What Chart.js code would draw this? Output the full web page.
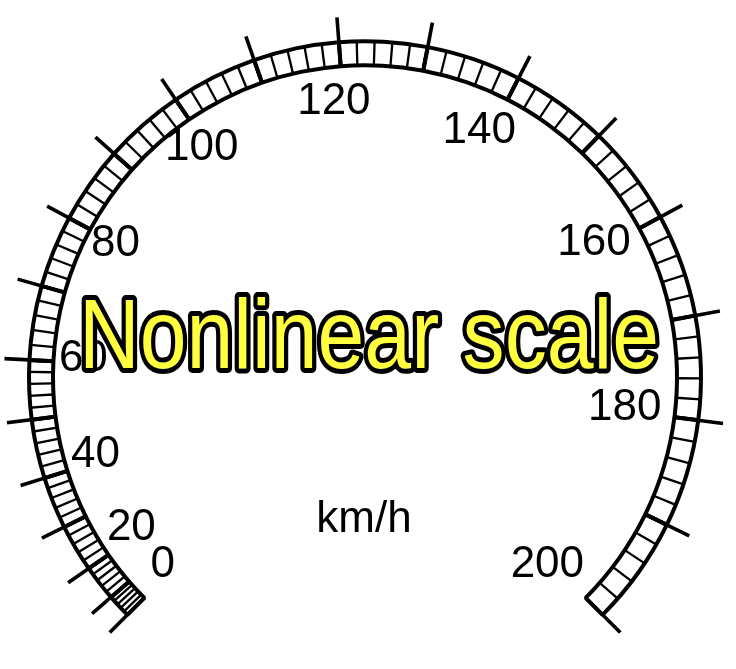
<!DOCTYPE html>
<html>
<head>
<meta charset="utf-8">
<script src="https://cdn.jsdelivr.net/npm/chart.js@4.4.1/dist/chart.umd.min.js"></script>
<style>
  body { margin: 0; background: #fff; }
  #wrap { width: 736px; height: 669px; }
</style>
</head>
<body>
<div id="wrap"><canvas id="gauge"></canvas></div>
<script>
// one doughnut segment per 10 km/h, width = angle (degrees)
const decadeStarts = [0, 10, 20, 30, 40, 50, 60, 70, 80, 90, 100, 110, 120, 130, 140, 150, 160, 170, 180, 190];
const decadeWidths = [4.1, 6.2, 8.2, 9.0, 10.2, 10.2, 12.8, 12.5, 13.4, 14.0, 15.0, 14.8, 15.2, 16.4, 16.9, 17.4, 17.9, 17.9, 18.7, 18.9];
const speedLabels = ["0", "20", "40", "60", "80", "100", "120", "140", "160", "180", "200"];
const minorPerDecade = 5; // a minor cell every 2 km/h
const unitText = "km/h";
const titleText = "Nonlinear scale";

const fontFace = "'Liberation Sans', Arial, sans-serif";

function radial(ctx, x, y, a, r1, r2) {
  ctx.beginPath();
  ctx.moveTo(x + r1 * Math.cos(a), y + r1 * Math.sin(a));
  ctx.lineTo(x + r2 * Math.cos(a), y + r2 * Math.sin(a));
  ctx.stroke();
}

const gaugeDecor = {
  id: "gaugeDecor",
  afterDatasetsDraw(chart) {
    const ctx = chart.ctx;
    const arcs = chart.getDatasetMeta(0).data;
    const p0 = arcs[0].getProps(["x", "y", "innerRadius", "outerRadius"], true);
    const cx = p0.x, cy = p0.y;
    const rIn = p0.innerRadius, rOut = p0.outerRadius;
    const tickOuter = rOut + 25;

    ctx.save();
    ctx.strokeStyle = "#000";
    ctx.lineCap = "butt";

    // minor cells
    ctx.lineWidth = 2.3;
    arcs.forEach(function (arc) {
      const p = arc.getProps(["startAngle", "endAngle"], true);
      const step = (p.endAngle - p.startAngle) / minorPerDecade;
      for (let k = 1; k < minorPerDecade; k++) {
        radial(ctx, cx, cy, p.startAngle + k * step, rIn, rOut);
      }
    });

    // major ticks
    let majors = arcs.map(a => a.getProps(["startAngle"], true).startAngle);
    majors.push(arcs[arcs.length - 1].getProps(["endAngle"], true).endAngle);
    ctx.lineWidth = 3.6;
    majors.forEach(a => radial(ctx, cx, cy, a, rIn, tickOuter));

    // labels every 20 km/h
    ctx.fillStyle = "#000";
    ctx.font = "44px " + fontFace;
    ctx.textAlign = "center";
    ctx.textBaseline = "alphabetic";
    speedLabels.forEach(function (txt, i) {
      const a = majors[i * 2];
      const x = cx - 10 + 272 * Math.cos(a);
      const y = cy - 8 + 272 * Math.sin(a);
      ctx.fillText(txt, x, y + 15.8);
    });

    ctx.fillText(unitText, cx - 1, cy + 155);

    // title
    ctx.save();
    ctx.translate(cx + 4, cy - 9);
    ctx.scale(0.85, 1);
    ctx.font = "99px " + fontFace;
    ctx.lineJoin = "round";
    ctx.lineWidth = 10;
    ctx.strokeStyle = "#000";
    ctx.strokeText(titleText, 0, 0);
    ctx.fillStyle = "#ffff40";
    ctx.fillText(titleText, 0, 0);
    ctx.restore();

    ctx.restore();
  }
};

new Chart(document.getElementById("gauge"), {
  type: "doughnut",
  data: {
    labels: decadeStarts.map(v => v + " km/h"),
    datasets: [{
      data: decadeWidths,
      backgroundColor: "#fff",
      borderColor: "#000",
      borderWidth: 4,
      borderAlign: "center",
      hoverOffset: 0,
      radius: 336,
      cutout: "92.86%"
    }]
  },
  options: {
    responsive: true,
    maintainAspectRatio: false,
    animation: false,
    rotation: -135,
    circumference: 270,
    layout: { padding: { left: 0, right: 6, top: 0, bottom: 13 } },
    events: [],
    plugins: {
      legend: { display: false },
      tooltip: { enabled: false }
    }
  },
  plugins: [gaugeDecor]
});
</script>
</body>
</html>
